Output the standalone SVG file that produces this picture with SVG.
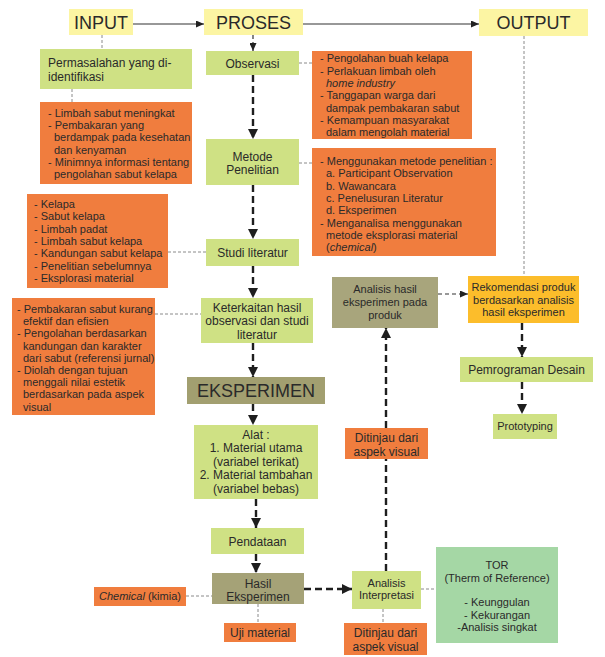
<svg xmlns="http://www.w3.org/2000/svg" width="605" height="657" viewBox="0 0 605 657">
<style>
text{font-family:"Liberation Sans",Arial,sans-serif;fill:#2a2a2a}
.h{font-size:18px}
.m{font-size:12px}
.s{font-size:11px}
.c{text-anchor:middle}
.yel{fill:#fcf5a3}
.grn{fill:#cfe184}
.org{fill:#f07d3e}
.olv{fill:#a5a277}
.gold{fill:#fcbd2b}
.tor{fill:#a5d7a5}
.gd{fill:none;stroke:#8a8a8a;stroke-width:1;stroke-dasharray:3 2}
.bd{fill:none;stroke:#1e1e1e;stroke-width:2.4;stroke-dasharray:7 4}
.sl{fill:none;stroke:#333;stroke-width:1.2}
.td{fill:none;stroke:#333;stroke-width:1.2;stroke-dasharray:4 3}
.i{font-style:italic}
</style>
<defs>
<marker id="a" markerUnits="userSpaceOnUse" markerWidth="10" markerHeight="10" refX="10" refY="5" orient="auto" viewBox="0 0 10 10">
<path d="M0,0 L10,5 L0,10 z" fill="#1e1e1e"/>
</marker>
<marker id="as" markerUnits="userSpaceOnUse" markerWidth="8" markerHeight="7" refX="8" refY="3.5" orient="auto" viewBox="0 0 8 7">
<path d="M0,0 L8,3.5 L0,7 z" fill="#222"/>
</marker>
</defs>

<g id="connectors">
<line class="sl" x1="133" y1="24" x2="204" y2="24" marker-end="url(#as)"/>
<line class="sl" x1="303" y1="24" x2="479" y2="24" marker-end="url(#as)"/>
<line class="td" x1="253" y1="35" x2="253" y2="51" marker-end="url(#as)"/>
<line class="bd" x1="253" y1="75" x2="253" y2="139" marker-end="url(#a)"/>
<line class="bd" x1="253" y1="185" x2="253" y2="239" marker-end="url(#a)"/>
<line class="bd" x1="253" y1="266" x2="253" y2="298" marker-end="url(#a)"/>
<line class="bd" x1="253" y1="343" x2="253" y2="377" marker-end="url(#a)"/>
<line class="bd" x1="253" y1="404" x2="253" y2="425" marker-end="url(#a)"/>
<line class="bd" x1="256" y1="499" x2="256" y2="528" marker-end="url(#a)"/>
<line class="bd" x1="256" y1="554" x2="256" y2="573" marker-end="url(#a)"/>
<line class="bd" x1="304" y1="589" x2="352" y2="589" marker-end="url(#a)"/>
<line class="bd" x1="386" y1="571" x2="386" y2="328" marker-end="url(#a)"/>
<line class="td" x1="438" y1="294" x2="468" y2="294" marker-end="url(#as)"/>
<line class="bd" x1="522" y1="323" x2="522" y2="357" marker-end="url(#a)"/>
<line class="bd" x1="522" y1="382" x2="522" y2="414" marker-end="url(#a)"/>
<line class="gd" x1="102" y1="35" x2="102" y2="49"/>
<line class="gd" x1="72" y1="89" x2="72" y2="102"/>
<line class="gd" x1="299" y1="63" x2="312" y2="63"/>
<line class="gd" x1="299" y1="163" x2="312" y2="163"/>
<line class="gd" x1="168" y1="252" x2="206" y2="252"/>
<line class="gd" x1="155" y1="314" x2="201" y2="314"/>
<line class="gd" x1="524" y1="36" x2="524" y2="276"/>
<line class="gd" x1="186" y1="596" x2="212" y2="596"/>
<line class="gd" x1="258" y1="604" x2="258" y2="623"/>
<line class="gd" x1="421" y1="589" x2="436" y2="589"/>
<line class="gd" x1="383" y1="609" x2="383" y2="623"/>
</g>

<g id="input">
<rect class="yel" x="69" y="9" width="64" height="26"/>
<text class="h c" x="101" y="29">INPUT</text>
</g>
<g id="proses">
<rect class="yel" x="204" y="9" width="99" height="26"/>
<text class="h c" x="253.5" y="29">PROSES</text>
</g>
<g id="output">
<rect class="yel" x="479" y="9" width="109" height="27"/>
<text class="h c" x="533.5" y="29">OUTPUT</text>
</g>

<g id="permasalahan">
<rect class="grn" x="40" y="49" width="152" height="40"/>
<text class="m" x="48" y="66.5">Permasalahan yang di-</text>
<text class="m" x="48" y="80.5">identifikasi</text>
</g>
<g id="masalah-detail">
<rect class="org" x="40" y="102" width="152" height="82"/>
<text class="s" x="48" y="117">- Limbah sabut meningkat</text>
<text class="s" x="48" y="129.2">- Pembakaran yang</text>
<text class="s" x="54" y="141.4">berdampak pada kesehatan</text>
<text class="s" x="54" y="153.6">dan kenyaman</text>
<text class="s" x="48" y="165.8">- Minimnya informasi tentang</text>
<text class="s" x="54" y="178">pengolahan sabut kelapa</text>
</g>

<g id="observasi">
<rect class="grn" x="206" y="51" width="93" height="24"/>
<text class="m c" x="252.5" y="67.5">Observasi</text>
</g>
<g id="observasi-detail">
<rect class="org" x="312" y="51" width="160" height="88"/>
<text class="s" x="320" y="62.3">- Pengolahan buah kelapa</text>
<text class="s" x="320" y="74.6">- Perlakuan limbah oleh</text>
<text class="s i" x="326" y="86.9">home industry</text>
<text class="s" x="320" y="99.2">- Tanggapan warga dari</text>
<text class="s" x="326" y="111.5">dampak pembakaran sabut</text>
<text class="s" x="320" y="123.8">- Kemampuan masyarakat</text>
<text class="s" x="326" y="136.1">dalam mengolah material</text>
</g>

<g id="metode">
<rect class="grn" x="206" y="139" width="93" height="46"/>
<text class="m c" x="252.5" y="160.5">Metode</text>
<text class="m c" x="252.5" y="173.5">Penelitian</text>
</g>
<g id="metode-detail">
<rect class="org" x="312" y="148" width="184" height="108"/>
<text class="s" x="320" y="165">- Menggunakan metode penelitian :</text>
<text class="s" x="326" y="177.3">a. Participant Observation</text>
<text class="s" x="326" y="189.6">b. Wawancara</text>
<text class="s" x="326" y="201.9">c. Penelusuran Literatur</text>
<text class="s" x="326" y="214.2">d. Eksperimen</text>
<text class="s" x="320" y="226.5">- Menganalisa menggunakan</text>
<text class="s" x="326" y="238.8">metode eksplorasi material</text>
<text class="s" x="326" y="251.1">(<tspan class="i">chemical</tspan>)</text>
</g>

<g id="studi-detail">
<rect class="org" x="27" y="194" width="141" height="94"/>
<text class="s" x="34" y="208">- Kelapa</text>
<text class="s" x="34" y="220.3">- Sabut kelapa</text>
<text class="s" x="34" y="232.6">- Limbah padat</text>
<text class="s" x="34" y="244.9">- Limbah sabut kelapa</text>
<text class="s" x="34" y="257.2">- Kandungan sabut kelapa</text>
<text class="s" x="34" y="269.5">- Penelitian sebelumnya</text>
<text class="s" x="34" y="281.8">- Eksplorasi material</text>
</g>
<g id="studi">
<rect class="grn" x="206" y="239" width="93" height="27"/>
<text class="m c" x="252.5" y="256.5">Studi literatur</text>
</g>

<g id="keterkaitan-detail">
<rect class="org" x="12" y="298" width="143" height="117"/>
<text class="s" x="17" y="313">- Pembakaran sabut kurang</text>
<text class="s" x="23" y="325.2">efektif dan efisien</text>
<text class="s" x="17" y="337.4">- Pengolahan berdasarkan</text>
<text class="s" x="23" y="349.6">kandungan dan karakter</text>
<text class="s" x="23" y="361.8">dari sabut (referensi jurnal)</text>
<text class="s" x="17" y="374">- Diolah dengan tujuan</text>
<text class="s" x="23" y="386.2">menggali nilai estetik</text>
<text class="s" x="23" y="398.4">berdasarkan pada aspek</text>
<text class="s" x="23" y="410.6">visual</text>
</g>
<g id="keterkaitan">
<rect class="grn" x="201" y="298" width="112" height="45"/>
<text class="m c" x="257" y="311.5">Keterkaitan hasil</text>
<text class="m c" x="257" y="325">observasi dan studi</text>
<text class="m c" x="257" y="338.5">literatur</text>
</g>

<g id="eksperimen">
<rect class="olv" x="187" y="377" width="138" height="27" style="fill:#a29f70"/>
<text class="h c" x="256" y="397">EKSPERIMEN</text>
</g>

<g id="alat">
<rect class="grn" x="194" y="425" width="124" height="74"/>
<text class="m c" x="256" y="438.5">Alat :</text>
<text class="m c" x="256" y="452">1. Material utama</text>
<text class="m c" x="256" y="465.5">(variabel terikat)</text>
<text class="m c" x="256" y="479">2. Material tambahan</text>
<text class="m c" x="256" y="492.5">(variabel bebas)</text>
</g>

<g id="pendataan">
<rect class="grn" x="211" y="528" width="93" height="26"/>
<text class="m c" x="257.5" y="546">Pendataan</text>
</g>

<g id="hasil">
<rect class="olv" x="212" y="573" width="92" height="31"/>
<text class="m c" x="258" y="587.5">Hasil</text>
<text class="m c" x="258" y="601">Eksperimen</text>
</g>
<g id="chemical">
<rect class="org" x="94" y="587" width="92" height="19"/>
<text class="s c" x="140" y="600"><tspan class="i">Chemical</tspan> (kimia)</text>
</g>
<g id="uji">
<rect class="org" x="224" y="623" width="72" height="19"/>
<text class="m c" x="260" y="637">Uji material</text>
</g>

<g id="analisis-interpretasi">
<rect class="grn" x="352" y="571" width="69" height="38"/>
<text class="s c" x="386.5" y="587">Analisis</text>
<text class="s c" x="386.5" y="599">Interpretasi</text>
</g>
<g id="tor">
<rect class="tor" x="436" y="547" width="122" height="96"/>
<text class="s c" x="497" y="569">TOR</text>
<text class="s c" x="497" y="582">(Therm of Reference)</text>
<text class="s c" x="497" y="606">- Keunggulan</text>
<text class="s c" x="497" y="618.5">- Kekurangan</text>
<text class="s c" x="497" y="631">-Analisis singkat</text>
</g>
<g id="ditinjau-bawah">
<rect class="org" x="344" y="623" width="83" height="32"/>
<text class="m c" x="385.5" y="637">Ditinjau dari</text>
<text class="m c" x="385.5" y="651">aspek visual</text>
</g>
<g id="ditinjau-atas">
<rect class="org" x="345" y="428" width="83" height="31"/>
<text class="m c" x="386.5" y="442">Ditinjau dari</text>
<text class="m c" x="386.5" y="455.5">aspek visual</text>
</g>

<g id="analisis-hasil">
<rect class="olv" x="332" y="277" width="106" height="51" style="fill:#a8a57c"/>
<text class="s c" x="385" y="293">Analisis hasil</text>
<text class="s c" x="385" y="306">eksperimen pada</text>
<text class="s c" x="385" y="318.5">produk</text>
</g>
<g id="rekomendasi">
<rect class="gold" x="468" y="276" width="111" height="47"/>
<text class="s c" x="523.5" y="291">Rekomendasi produk</text>
<text class="s c" x="523.5" y="303.5">berdasarkan analisis</text>
<text class="s c" x="523.5" y="316">hasil eksperimen</text>
</g>
<g id="pemrograman">
<rect class="grn" x="460" y="357" width="133" height="25"/>
<text class="m c" x="526.5" y="373.5">Pemrograman Desain</text>
</g>
<g id="prototyping">
<rect class="grn" x="493" y="414" width="64" height="25"/>
<text class="s c" x="525" y="430">Prototyping</text>
</g>
</svg>
